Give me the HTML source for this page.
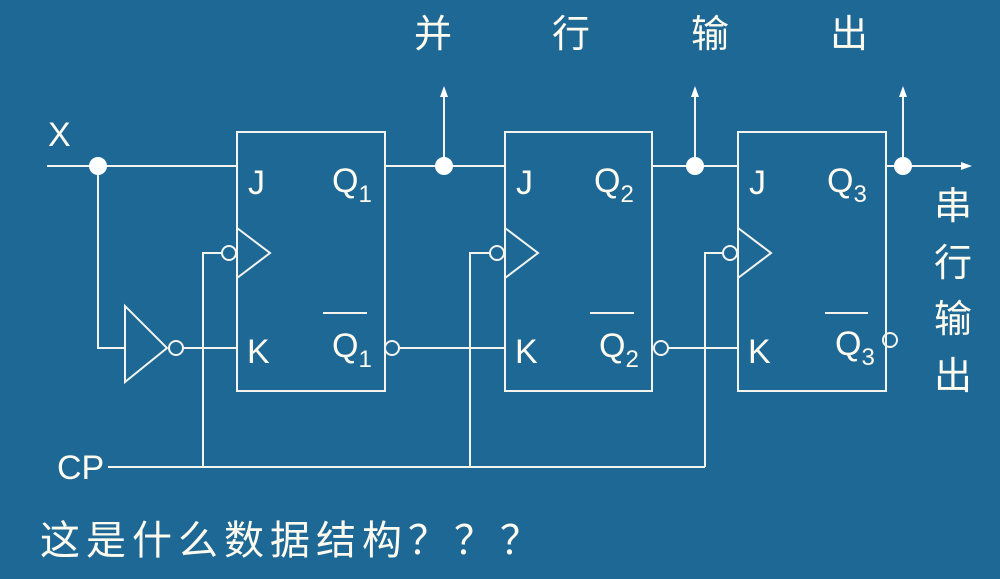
<!DOCTYPE html>
<html><head><meta charset="utf-8"><style>
html,body{margin:0;padding:0;background:#1e6896;}
svg{display:block}
text{fill:#fffbee;font-family:"Liberation Sans Narrow","Liberation Sans","Noto Sans CJK SC",sans-serif;}
.cj{font-family:"Noto Sans CJK SC",sans-serif;font-size:38px;}
</style></head><body>
<svg width="1000" height="579" viewBox="0 0 1000 579" xmlns="http://www.w3.org/2000/svg">
<g stroke="#f4f4ee" stroke-width="2" fill="none">
<rect x="237" y="132" width="148" height="259"/>
<rect x="505" y="132" width="147" height="259"/>
<rect x="738" y="132" width="148" height="259"/>
<polyline points="237,228 270,253 237,278"/>
<polyline points="505,228 538,253 505,278"/>
<polyline points="738,228 771,253 738,278"/>
<circle cx="229" cy="253" r="7"/>
<circle cx="497" cy="253" r="7"/>
<circle cx="730" cy="253" r="7"/>
<polyline points="222,253 203,253 203,467"/>
<polyline points="490,253 470,253 470,467"/>
<polyline points="723,253 705,253 705,467"/>
<line x1="108" y1="467" x2="705" y2="467"/>
<line x1="47" y1="166" x2="237" y2="166"/>
<polyline points="98,166 98,348 125,348"/>
<polygon points="125,306 125,382 167,348"/>
<circle cx="176" cy="348" r="7"/>
<line x1="183" y1="348" x2="237" y2="348"/>
<line x1="385" y1="166" x2="505" y2="166"/>
<line x1="652" y1="166" x2="738" y2="166"/>
<line x1="886" y1="166" x2="965" y2="166"/>
<line x1="444" y1="166" x2="444" y2="92"/>
<line x1="695" y1="166" x2="695" y2="92"/>
<line x1="903" y1="166" x2="903" y2="92"/>
<circle cx="392" cy="348" r="7"/>
<line x1="399" y1="348" x2="505" y2="348"/>
<circle cx="661" cy="348" r="7"/>
<line x1="668" y1="348" x2="738" y2="348"/>
<circle cx="890" cy="340" r="7"/>
<line x1="323" y1="313" x2="367" y2="313"/>
<line x1="590" y1="313" x2="634" y2="313"/>
<line x1="825" y1="313" x2="868" y2="313"/>
</g>
<g fill="#fff">
<circle cx="98" cy="166" r="9"/>
<circle cx="444" cy="166" r="9"/>
<circle cx="695" cy="166" r="9"/>
<circle cx="903" cy="166" r="9"/>
<polygon points="444,86 440,97 448,97"/>
<polygon points="695,86 691,97 699,97"/>
<polygon points="903,86 899,97 907,97"/>
<polygon points="972,166 961,162 961,170"/>
</g>
<g font-size="34">
<text x="48" y="146">X</text>
<text x="57" y="479">CP</text>
<text x="248" y="194">J</text><text x="247" y="363">K</text>
<text x="516" y="194">J</text><text x="515" y="363">K</text>
<text x="749" y="194">J</text><text x="748" y="363">K</text>
<text x="332" y="192">Q<tspan font-size="24" dy="10">1</tspan></text>
<text x="332" y="357">Q<tspan font-size="24" dy="10">1</tspan></text>
<text x="594" y="192">Q<tspan font-size="24" dy="10">2</tspan></text>
<text x="599" y="357">Q<tspan font-size="24" dy="10">2</tspan></text>
<text x="827" y="192">Q<tspan font-size="24" dy="10">3</tspan></text>
<text x="835" y="355">Q<tspan font-size="24" dy="10">3</tspan></text>
</g>
<g class="cj">
<text x="414" y="47">并</text>
<text x="552" y="47">行</text>
<text x="691" y="47">输</text>
<text x="830" y="47">出</text>
<text x="934" y="219">串</text>
<text x="934" y="276">行</text>
<text x="934" y="332">输</text>
<text x="934" y="389">出</text>
<text x="40" y="554" style="font-size:40px;letter-spacing:6px">这是什么数据结构？？？</text>
</g>
</svg>
</body></html>
